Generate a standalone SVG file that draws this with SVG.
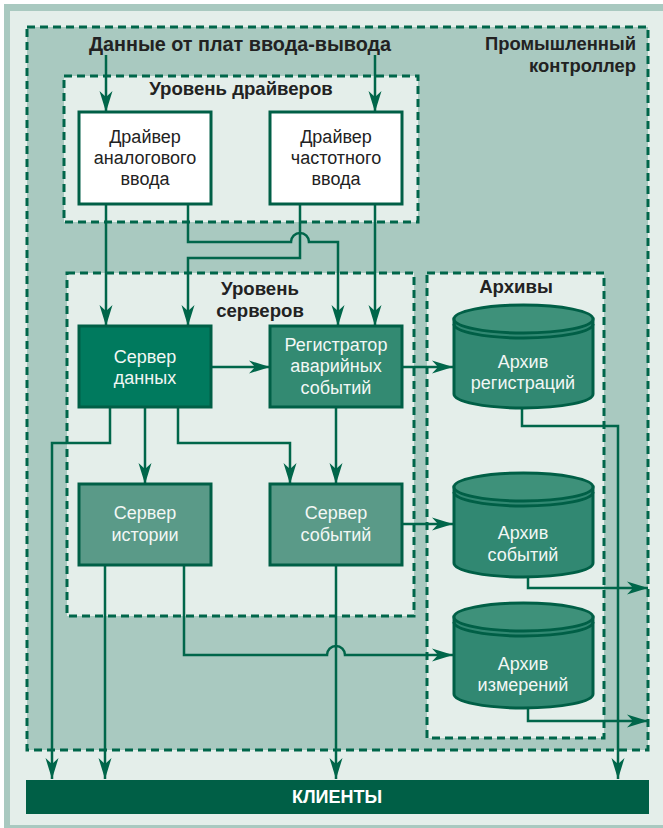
<svg xmlns="http://www.w3.org/2000/svg" width="663" height="828" viewBox="0 0 663 828">
<style>
text{font-family:"Liberation Sans",Arial,sans-serif;text-anchor:middle}
.h{font-weight:bold;font-size:18px;fill:#222}
.d{font-size:18px;fill:#222}
.w{font-size:18px;fill:#f2f7f5}
.zone{stroke:#00664a;stroke-width:3;stroke-dasharray:8 5}
.box{stroke:#005f46;stroke-width:3}
.cb{fill:#318872;stroke:#005f46;stroke-width:3}
.ct{fill:#3e917a;stroke:#005f46;stroke-width:3}
.rim{fill:none;stroke:#005f46;stroke-width:3}
.c{fill:none;stroke:#00664a;stroke-width:2.5}
</style>
<defs>
<marker id="ah" markerUnits="userSpaceOnUse" markerWidth="24" markerHeight="16" viewBox="-21 -8 24 16" refX="0" refY="0" orient="auto">
<path d="M-21,-6.5 L0,0 L-21,6.5 L-15,0 Z" fill="#00664a"/>
</marker>
</defs>
<rect x="0" y="0" width="663" height="828" fill="#ffffff"/>
<rect x="4" y="4" width="659" height="824" fill="#a9c9c0"/>
<rect x="10" y="11" width="653" height="814" fill="#e4eeea"/>
<rect class="zone" x="27" y="27" width="621" height="723" fill="#a9c9c0"/>
<rect class="zone" x="64" y="76" width="354" height="146" fill="#e4eeea"/>
<rect class="zone" x="67" y="273" width="347" height="343" fill="#e4eeea"/>
<rect class="zone" x="427" y="273" width="177" height="465" fill="#e4eeea"/>
<text class="h" x="240" y="51" style="font-size:19.8px">Данные от плат ввода-вывода</text>
<text class="h" x="636" y="50" style="text-anchor:end;font-size:18.4px">Промышленный</text>
<text class="h" x="636" y="72" style="text-anchor:end;font-size:18.4px">контроллер</text>
<text class="h" x="241" y="95" style="font-size:18.6px">Уровень драйверов</text>
<text class="h" x="260" y="295" style="font-size:18.6px">Уровень</text>
<text class="h" x="260" y="317" style="font-size:18.6px">серверов</text>
<text class="h" x="516" y="293" style="font-size:18.6px">Архивы</text>
<g id="connectors">
<path class="c" d="M106,55 V112" marker-end="url(#ah)"/>
<path class="c" d="M375,55 V112" marker-end="url(#ah)"/>
<path class="c" d="M106,204 V326" marker-end="url(#ah)"/>
<path class="c" d="M188,204 V242 H291 A9,9 0 0 1 309,242 H338 V326" marker-end="url(#ah)"/>
<path class="c" d="M300,204 V258 H188 V326" marker-end="url(#ah)"/>
<path class="c" d="M375,204 V326" marker-end="url(#ah)"/>
<path class="c" d="M211,367 H270" marker-end="url(#ah)"/>
<path class="c" d="M402,367 H453" marker-end="url(#ah)"/>
<path class="c" d="M110,407 V443 H52 V779" marker-end="url(#ah)"/>
<path class="c" d="M145,407 V484" marker-end="url(#ah)"/>
<path class="c" d="M178,407 V443 H290 V484" marker-end="url(#ah)"/>
<path class="c" d="M336,407 V484" marker-end="url(#ah)"/>
<path class="c" d="M402,524 H453" marker-end="url(#ah)"/>
<path class="c" d="M522,408 V426 H618 V779" marker-end="url(#ah)"/>
<path class="c" d="M528,577 V588 H648" marker-end="url(#ah)"/>
<path class="c" d="M528,708 V721 H648" marker-end="url(#ah)"/>
<path class="c" d="M105,565 V779" marker-end="url(#ah)"/>
<path class="c" d="M184,565 V655 H327 A9,9 0 0 1 345,655 H453" marker-end="url(#ah)"/>
<path class="c" d="M336,565 V779" marker-end="url(#ah)"/>
</g>
<g id="drv1">
<rect class="box" x="79" y="112" width="132" height="92" fill="#ffffff"/>
<text class="d" x="145" y="143">Драйвер</text>
<text class="d" x="145" y="164">аналогового</text>
<text class="d" x="145" y="185">ввода</text>
</g>
<g id="drv2">
<rect class="box" x="270" y="112" width="132" height="92" fill="#ffffff"/>
<text class="d" x="336" y="143">Драйвер</text>
<text class="d" x="336" y="164">частотного</text>
<text class="d" x="336" y="185">ввода</text>
</g>
<g id="srvData">
<rect class="box" x="79" y="326" width="132" height="81" fill="#007a5e"/>
<text class="w" x="145" y="363">Сервер</text>
<text class="w" x="145" y="384">данных</text>
</g>
<g id="alarmReg">
<rect class="box" x="270" y="326" width="132" height="81" fill="#338a72"/>
<text class="w" x="336" y="351">Регистратор</text>
<text class="w" x="336" y="372">аварийных</text>
<text class="w" x="336" y="394">событий</text>
</g>
<g id="srvHist">
<rect class="box" x="79" y="484" width="132" height="81" fill="#5a9a88"/>
<text class="w" x="145" y="519">Сервер</text>
<text class="w" x="145" y="541">истории</text>
</g>
<g id="srvEvt">
<rect class="box" x="270" y="484" width="132" height="81" fill="#5a9a88"/>
<text class="w" x="336" y="519">Сервер</text>
<text class="w" x="336" y="541">событий</text>
</g>
<g id="arcReg">
<path class="cb" d="M454,319 V394 A69.5,14 0 0 0 593,394 V319 Z"/>
<ellipse class="ct" cx="523.5" cy="319" rx="69.5" ry="14"/>
<path class="rim" d="M454,324 A69.5,14 0 0 0 593,324"/>
<text class="w" x="523" y="368">Архив</text>
<text class="w" x="523" y="389">регистраций</text>
</g>
<g id="arcEvt">
<path class="cb" d="M454,487 V563 A69.5,14 0 0 0 593,563 V487 Z"/>
<ellipse class="ct" cx="523.5" cy="487" rx="69.5" ry="14"/>
<path class="rim" d="M454,492 A69.5,14 0 0 0 593,492"/>
<text class="w" x="523" y="539">Архив</text>
<text class="w" x="523" y="561">событий</text>
</g>
<g id="arcMeas">
<path class="cb" d="M454,617 V694 A69.5,14 0 0 0 593,694 V617 Z"/>
<ellipse class="ct" cx="523.5" cy="617" rx="69.5" ry="14"/>
<path class="rim" d="M454,622 A69.5,14 0 0 0 593,622"/>
<text class="w" x="523" y="670">Архив</text>
<text class="w" x="523" y="691">измерений</text>
</g>
<g id="clients">
<rect x="26" y="780" width="623" height="34" fill="#005f46"/>
<text class="h" x="337" y="803" style="fill:#ffffff">КЛИЕНТЫ</text>
</g>
</svg>
